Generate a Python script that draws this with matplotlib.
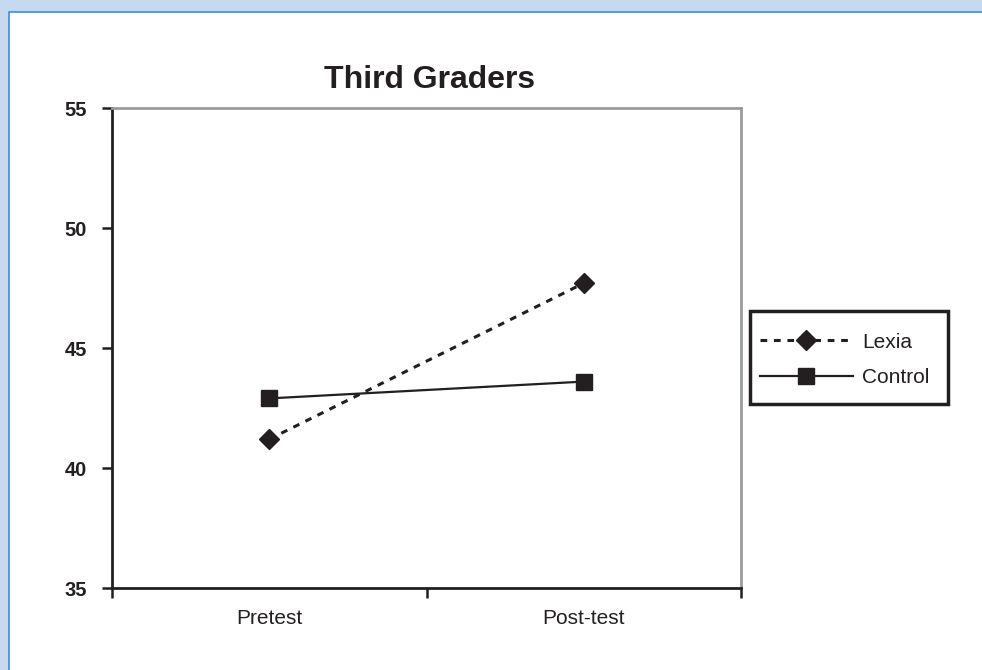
import matplotlib
matplotlib.use('Agg')
import matplotlib.pyplot as plt
from matplotlib.patches import Rectangle

categories = ['Pretest', 'Post-test']
lexia = [41.2, 47.7]
control = [42.9, 43.6]
yticks = [35, 40, 45, 50, 55]

W, H = 982, 670
ink = '#231f20'

fig = plt.figure(figsize=(W / 100, H / 100), dpi=100, facecolor='#c6d9f0')
# white panel with blue edge
fig.patches.append(Rectangle((9 / W, -0.01), 1, 1 - 12 / H + 0.01, transform=fig.transFigure,
                             facecolor='white', edgecolor='#3a8fd8', linewidth=1.2, zorder=-5))
# legend box drawn separately so the padding matches
fig.patches.append(Rectangle((750 / W, 1 - 404 / H), 198 / W, 93 / H, transform=fig.transFigure,
                             facecolor='white', edgecolor=ink, linewidth=2.5, zorder=-1))

ax = fig.add_axes([112 / W, 1 - 588 / H, (741 - 112) / W, (588 - 108) / H])
ax.set_zorder(2)
ax.set_facecolor('none')

xpos = [0.5, 1.5]
ax.plot(xpos, lexia, linestyle=(0, (2.2, 2.2)), color=ink, lw=2.2, marker='D',
        markersize=10, label='Lexia', clip_on=False)
ax.plot(xpos, control, linestyle='-', color=ink, lw=1.6, marker='s',
        markersize=11, label='Control', clip_on=False)

ax.set_xlim(0, 2)
ax.set_ylim(35, 55)
ax.set_yticks(yticks)
ax.set_yticklabels([str(v) for v in yticks], fontsize=14.5, fontweight='bold',
                   family='Liberation Sans', color=ink)
ax.set_xticks([0, 1, 2])
ax.set_xticklabels([])
ax.set_xticks(xpos, minor=True)
ax.set_xticklabels(categories, minor=True, fontsize=15,
                   family=['Liberation Sans Narrow', 'Liberation Sans'], color=ink)
ax.tick_params(axis='x', which='minor', length=0, pad=15)
ax.tick_params(axis='x', which='major', length=7, width=1.8, color=ink, direction='out')
ax.tick_params(axis='y', length=7, width=1.8, color=ink, direction='out', pad=11)

ax.spines['left'].set_color(ink)
ax.spines['left'].set_linewidth(2)
ax.spines['bottom'].set_color(ink)
ax.spines['bottom'].set_linewidth(2)
ax.spines['top'].set_color('#9a9a9a')
ax.spines['top'].set_linewidth(2)
ax.spines['right'].set_color('#9a9a9a')
ax.spines['right'].set_linewidth(2)

fig.text(430 / W, 1 - 80 / H, 'Third Graders', ha='center', va='center',
         fontsize=23, fontweight='bold', family='Liberation Sans', color=ink)

leg = fig.legend(loc='center left', bbox_to_anchor=(760 / W, 1 - 360 / H),
                 frameon=False, borderpad=0, handlelength=4.45,
                 handletextpad=0.45, labelspacing=0.8, borderaxespad=0,
                 prop={'family': ['Liberation Sans Narrow', 'Liberation Sans'], 'size': 15})
for t in leg.get_texts():
    t.set_color(ink)

fig.savefig('out.png', dpi=100, facecolor=fig.get_facecolor())
